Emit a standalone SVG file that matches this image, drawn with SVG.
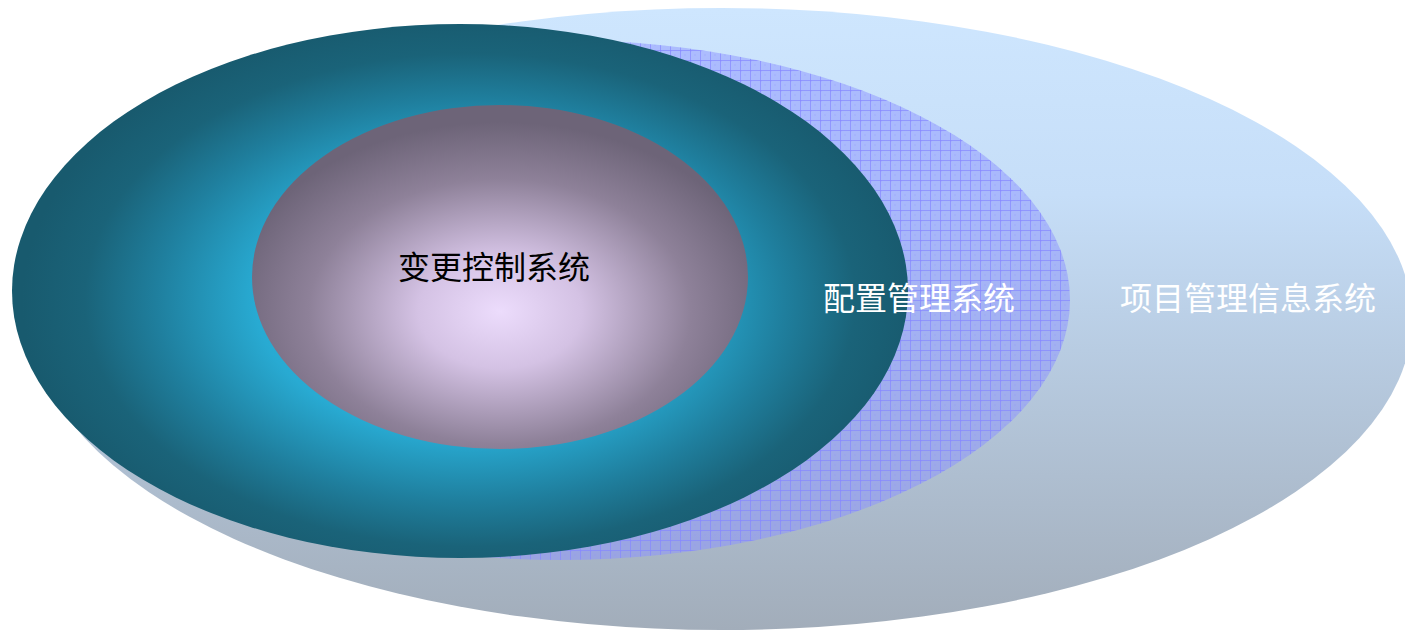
<svg xmlns="http://www.w3.org/2000/svg" width="1405" height="631" viewBox="0 0 1405 631">
  <defs>
    <linearGradient id="gOuter" x1="0" y1="0" x2="0" y2="1">
      <stop offset="0" stop-color="#cee6fe"/>
      <stop offset="0.3" stop-color="#c6def8"/>
      <stop offset="0.55" stop-color="#b8cce2"/>
      <stop offset="1" stop-color="#a2adba"/>
    </linearGradient>
    <pattern id="pGrid" width="10" height="10" patternUnits="userSpaceOnUse">
      <rect width="10" height="10" fill="#8c94ff" fill-opacity="0.5"/>
      <rect x="0" y="0" width="2" height="2" fill="#8a8aff" fill-opacity="0.15"/>
      <rect x="4" y="4" width="2" height="2" fill="#8a8aff" fill-opacity="0.15"/>
      <path d="M0 0.5 H10 M0.5 0 V10" stroke="#8688ff" stroke-opacity="0.7" stroke-width="1" fill="none"/>
    </pattern>
    <radialGradient id="gTeal" cx="470" cy="300" r="448" gradientUnits="userSpaceOnUse" gradientTransform="translate(470 300) scale(1 0.64) translate(-470 -300)">
      <stop offset="0" stop-color="#34c2e8"/>
      <stop offset="0.48" stop-color="#28aad2"/>
      <stop offset="0.7" stop-color="#1f7f9e"/>
      <stop offset="0.86" stop-color="#1a6379"/>
      <stop offset="1" stop-color="#185a6e"/>
    </radialGradient>
    <radialGradient id="gInner" cx="0.5" cy="0.6" r="0.55">
      <stop offset="0" stop-color="#ecdcfc"/>
      <stop offset="0.3" stop-color="#d4c2e4"/>
      <stop offset="0.7" stop-color="#8e8199"/>
      <stop offset="1" stop-color="#6d6478"/>
    </radialGradient>
    <style>
      .lbl { font-family: "Noto Sans CJK SC", "Noto Sans", sans-serif; font-size: 32px; text-anchor: middle; dominant-baseline: central; }
      .w { fill: #ffffff; }
      .k { fill: #000000; }
    </style>
  </defs>
  <g id="outer">
    <ellipse cx="722" cy="319" rx="690" ry="311" fill="url(#gOuter)"/>
    <text class="lbl w" x="1248" y="296">项目管理信息系统</text>
  </g>
  <g id="config">
    <ellipse cx="560" cy="300" rx="510" ry="260" fill="url(#pGrid)"/>
  </g>
  <g id="teal">
    <ellipse cx="460" cy="291" rx="448" ry="267" fill="url(#gTeal)"/>
  </g>
  <g id="config-label">
    <text class="lbl w" x="919" y="296">配置管理系统</text>
  </g>
  <g id="inner">
    <ellipse cx="500" cy="277" rx="248" ry="172" fill="url(#gInner)"/>
    <text class="lbl k" x="494" y="265">变更控制系统</text>
  </g>
  <g id="connectors"/>
</svg>
